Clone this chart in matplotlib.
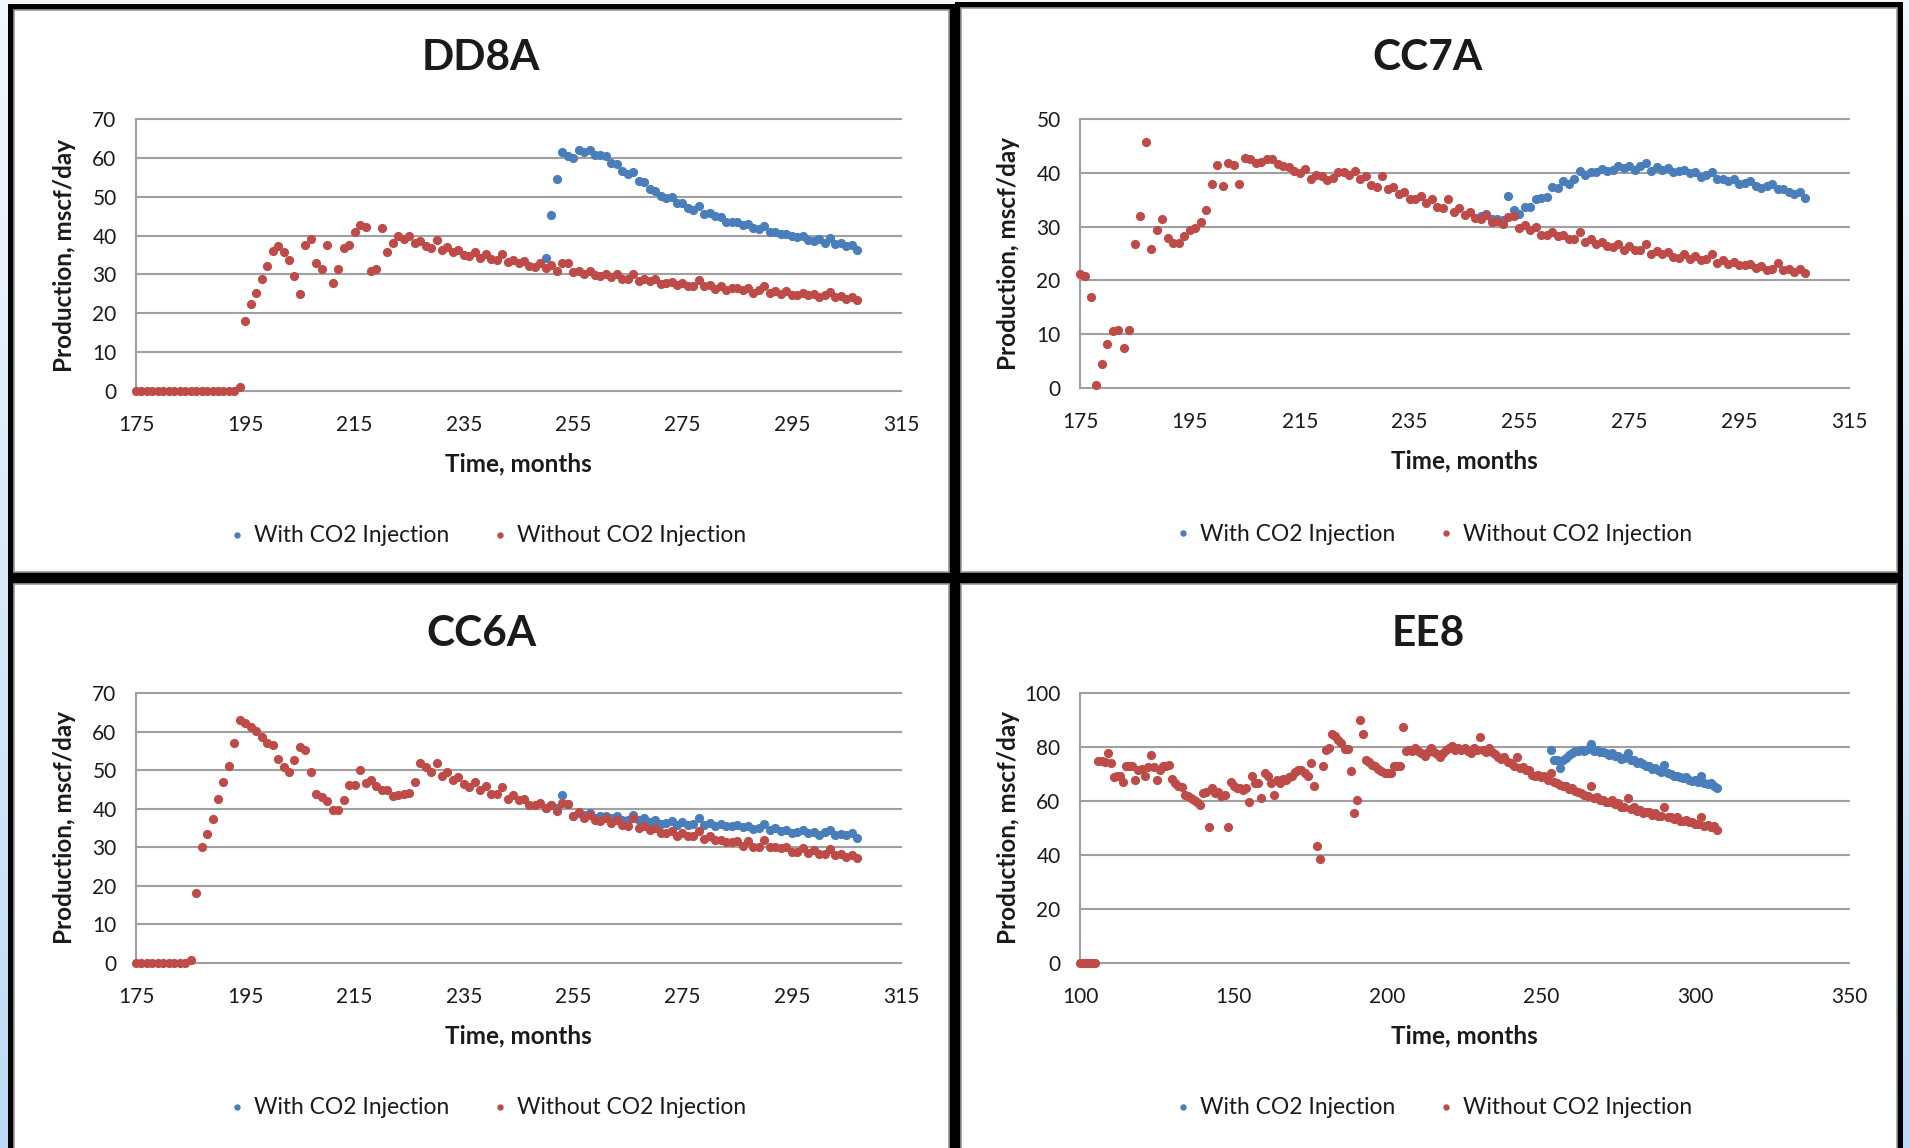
import numpy as np
import matplotlib
matplotlib.use("Agg")
import matplotlib.pyplot as plt
from matplotlib.patches import Rectangle
from matplotlib.lines import Line2D

plt.rcParams['font.family'] = ['Lato', 'DejaVu Sans']

W, H = 1909, 1148

# ---------------- data (monthly production, mscf/day) ----------------
dd8a_start_without = 175
dd8a_without = [0.0] * 19 + [1.1,
    17.9, 22.4, 25.3, 28.9, 32.2, 36.1, 37.2, 35.7, 33.8, 29.5,
    25.0, 37.6, 39.0, 32.9, 31.5, 37.6, 27.7, 31.5, 36.7, 37.6,
    40.9, 42.7, 42.2, 30.8, 31.4, 41.9, 35.7, 38.2, 40.0, 39.1,
    40.0, 38.1, 38.7, 37.2, 36.9, 38.9, 36.3, 37.0, 35.8, 36.3,
    35.1, 34.7, 35.7, 34.3, 35.2, 33.9, 33.6, 35.3, 33.1, 33.8,
    32.9, 33.4, 32.2, 32.0, 32.9, 31.6, 32.4, 31.0, 32.9, 32.9,
    30.5, 31.0, 30.2, 30.8, 29.8, 29.5, 30.2, 29.3, 30.0, 28.9,
    28.9, 30.2, 28.4, 28.9, 28.2, 28.9, 27.6, 27.7, 28.1, 27.2,
    27.9, 27.1, 26.9, 28.6, 26.9, 27.2, 26.3, 27.1, 25.9, 26.4,
    26.5, 26.0, 26.4, 25.3, 26.0, 27.1, 25.2, 25.7, 25.0, 25.7,
    24.8, 24.8, 25.2, 24.7, 25.0, 24.3, 24.8, 25.5, 24.3, 24.5,
    23.8, 24.3, 23.5]
dd8a_start_with = 250
dd8a_with = [34.2, 45.2, 54.6, 61.4, 60.4,
    60.0, 61.9, 61.5, 62.1, 60.8, 60.8, 60.4, 58.7, 58.4, 56.5,
    55.9, 56.4, 54.0, 53.7, 52.0, 51.5, 50.1, 49.6, 49.8, 48.4,
    48.4, 47.0, 46.6, 47.5, 45.6, 45.8, 45.1, 44.8, 43.6, 43.6,
    43.6, 42.7, 43.0, 42.0, 41.8, 42.5, 41.0, 41.0, 40.5, 40.3,
    39.8, 39.6, 40.0, 38.9, 38.6, 39.1, 38.2, 39.3, 37.9, 38.2,
    37.2, 37.5, 36.3]

cc7a_start_without = 175
cc7a_without = [
    21.2, 20.8, 17.0, 0.6, 4.5, 8.2, 10.6, 10.8, 7.5, 10.8,
    26.8, 31.9, 45.7, 25.8, 29.3, 31.4, 27.9, 26.9, 26.9, 28.3,
    29.3, 29.8, 30.9, 33.0, 38.0, 41.5, 37.6, 41.8, 41.5, 38.0,
    42.8, 42.6, 41.8, 42.1, 42.6, 42.6, 41.7, 41.3, 41.1, 40.3,
    39.9, 40.7, 38.9, 39.5, 39.4, 38.6, 39.1, 40.2, 40.1, 39.5,
    40.4, 38.9, 39.4, 37.7, 37.4, 39.4, 36.9, 37.3, 36.0, 36.5,
    35.2, 35.2, 35.7, 34.4, 35.1, 33.6, 33.5, 35.1, 32.8, 33.5,
    32.2, 32.8, 31.6, 31.5, 32.1, 30.9, 31.1, 30.4, 31.7, 31.9,
    29.8, 30.3, 29.3, 30.0, 28.5, 28.5, 29.0, 28.2, 28.5, 27.7,
    27.7, 29.0, 27.2, 27.7, 26.7, 27.1, 26.4, 26.3, 26.7, 25.7,
    26.4, 25.6, 25.6, 26.8, 25.0, 25.5, 25.0, 25.2, 24.4, 24.2,
    25.0, 24.0, 24.5, 23.7, 23.9, 25.0, 23.2, 23.7, 23.0, 23.5,
    22.8, 22.8, 23.1, 22.3, 22.6, 22.0, 22.1, 23.2, 21.9, 22.1,
    21.6, 22.1, 21.4]
cc7a_start_with = 248
cc7a_with = [32.0, 32.3, 31.5, 31.5, 31.3,
    35.7, 33.1, 32.3, 33.6, 33.7, 35.1, 35.4, 35.5, 37.3, 37.1,
    38.4, 37.9, 38.9, 40.3, 39.5, 40.1, 40.2, 40.7, 40.3, 40.5,
    41.3, 40.8, 41.3, 40.5, 41.3, 41.8, 40.3, 41.1, 40.5, 40.8,
    40.2, 40.3, 40.5, 39.9, 40.1, 39.2, 39.6, 40.2, 38.9, 38.9,
    38.5, 38.9, 38.0, 38.1, 38.5, 37.5, 37.1, 37.5, 37.9, 36.9,
    36.9, 36.5, 36.0, 36.4, 35.4]

cc6a_start_without = 175
cc6a_without = [0.0] * 10 + [
    0.7, 18.2, 30.2, 33.4, 37.4, 42.5, 47.0, 51.2, 57.1, 63.0,
    62.1, 61.1, 60.2, 58.5, 57.1, 56.5, 52.9, 50.7, 49.4, 52.6,
    56.1, 55.2, 49.4, 43.8, 43.0, 41.9, 39.7, 39.7, 42.3, 46.2,
    46.2, 50.0, 46.6, 47.5, 45.9, 44.9, 44.9, 43.2, 43.5, 43.8,
    44.2, 47.0, 51.8, 50.7, 49.6, 51.9, 48.5, 49.5, 47.5, 48.1,
    46.3, 45.7, 46.9, 44.9, 45.9, 43.8, 43.7, 45.7, 42.6, 43.5,
    42.3, 42.6, 40.9, 40.9, 41.6, 40.1, 40.9, 39.4, 41.4, 41.1,
    38.2, 39.2, 37.6, 38.5, 37.1, 36.8, 37.5, 36.3, 37.1, 35.7,
    35.4, 37.5, 35.1, 35.6, 34.5, 35.1, 33.7, 33.7, 34.2, 33.0,
    33.7, 32.8, 32.8, 34.2, 32.1, 32.8, 31.8, 31.9, 31.3, 31.3,
    31.6, 30.4, 31.6, 30.2, 30.2, 32.0, 30.1, 30.2, 29.7, 30.2,
    28.9, 28.9, 29.7, 28.5, 29.2, 28.3, 28.3, 29.5, 28.0, 28.2,
    27.6, 28.0, 27.1]
cc6a_start_with = 250
cc6a_with = [40.1, 40.9, 40.2, 43.5, 41.1,
    38.0, 38.8, 38.3, 39.0, 37.6, 38.0, 38.0, 37.5, 38.0, 37.0,
    37.1, 38.3, 37.0, 37.5, 36.6, 37.0, 36.1, 36.3, 36.8, 35.9,
    36.6, 35.9, 36.1, 37.5, 35.9, 36.3, 35.6, 36.1, 35.4, 35.4,
    35.7, 35.2, 35.6, 34.7, 35.1, 36.1, 34.5, 34.9, 34.2, 34.5,
    33.8, 34.0, 34.4, 33.7, 33.9, 33.3, 33.9, 34.4, 33.3, 33.5,
    33.2, 33.7, 32.5]

ee8_start_without = 100
ee8_without = [0.0] * 6 + [
    75.0, 75.0, 74.6, 77.8, 73.9, 68.8, 69.2, 69.4, 67.2, 72.9,
    72.9, 72.9, 67.9, 71.6, 71.9, 69.4, 72.5, 77.1, 72.5, 67.9,
    71.6, 73.1, 72.9, 73.4, 68.2, 66.7, 65.7, 65.2, 62.4, 61.8,
    61.2, 60.3, 59.8, 58.7, 62.8, 63.4, 50.2, 64.7, 62.8, 63.3,
    61.8, 62.1, 50.2, 67.1, 65.7, 65.0, 64.7, 64.2, 64.7, 59.6,
    69.2, 66.5, 66.7, 61.0, 70.2, 69.2, 66.7, 62.4, 67.9, 66.7,
    68.2, 67.9, 68.9, 69.4, 70.9, 71.6, 71.6, 70.4, 69.4, 73.9,
    65.5, 43.3, 38.6, 72.9, 79.0, 79.8, 84.7, 84.0, 82.7, 81.5,
    79.3, 79.3, 71.0, 55.4, 60.5, 90.1, 85.0, 75.1, 74.4, 73.5,
    72.9, 71.9, 71.0, 70.4, 70.2, 70.4, 73.1, 73.1, 72.9, 87.4,
    78.5, 79.0, 78.5, 79.5, 78.5, 77.8, 76.8, 78.3, 79.5, 78.3,
    77.3, 76.3, 77.8, 79.0, 79.5, 80.5, 79.0, 79.5, 79.0, 79.5,
    78.5, 77.8, 79.5, 79.0, 83.7, 79.0, 78.1, 79.5, 78.1, 77.3,
    76.3, 75.6, 76.3, 74.4, 73.9, 73.1, 76.3, 72.4, 72.6, 71.6,
    71.6, 69.7, 69.2, 69.7, 68.9, 69.2, 67.7, 70.4, 67.2, 66.7,
    66.1, 65.5, 65.7, 64.5, 65.0, 63.7, 63.3, 62.8, 62.3, 62.0,
    65.7, 61.0, 61.5, 60.3, 60.5, 59.6, 59.6, 60.3, 58.8, 59.1,
    57.8, 57.8, 61.0, 57.1, 57.8, 56.4, 56.8, 55.6, 55.9, 56.1,
    54.9, 55.4, 54.4, 54.4, 57.6, 53.9, 54.1, 53.4, 53.9, 52.7,
    52.7, 53.1, 52.2, 52.4, 51.4, 51.4, 53.9, 50.9, 51.2, 50.4,
    50.7, 49.2]
ee8_start_with = 253
ee8_with = [
    78.8, 75.3, 75.3, 72.4, 75.3, 76.1, 77.1, 77.8, 78.5, 78.5,
    79.0, 78.5, 79.3, 81.0, 78.5, 79.0, 78.3, 78.3, 77.6, 77.1,
    77.8, 76.6, 76.6, 75.6, 76.1, 77.8, 75.3, 75.3, 74.1, 74.4,
    73.6, 73.1, 73.1, 71.9, 72.1, 71.6, 70.9, 73.4, 70.4, 69.9,
    69.4, 69.4, 68.9, 68.4, 68.9, 67.9, 67.4, 67.9, 67.0, 69.4,
    66.7, 66.2, 66.5, 65.5, 64.7]

titles = ["DD8A", "CC7A", "CC6A", "EE8"]
series_names = ["With CO2 Injection", "Without CO2 Injection"]
x_label = "Time, months"
y_label = "Production, mscf/day"

xticks_175 = [175, 195, 215, 235, 255, 275, 295, 315]
xticks_ee8 = [100, 150, 200, 250, 300, 350]
yticks_70 = [0, 10, 20, 30, 40, 50, 60, 70]
yticks_50 = [0, 10, 20, 30, 40, 50]
yticks_100 = [0, 20, 40, 60, 80, 100]

BLUE = "#4A7EBB"
RED = "#BE4B48"
GRID = "#A0A0A0"
TXT = "#1a1a1a"

# ---------------- figure & background ----------------
fig = plt.figure(figsize=(W / 100, H / 100), dpi=100)
bg = fig.add_axes([0, 0, 1, 1], zorder=0)
bg.set_axis_off()
grad = np.linspace(0, 1, 256)[:, None]
top_c = np.array([0.95, 0.97, 0.99])
bot_c = np.array([0.74, 0.86, 0.97])
img = top_c[None, None, :] * (1 - grad[:, :, None]) + bot_c[None, None, :] * grad[:, :, None]
bg.imshow(img, aspect="auto", extent=[0, 1, 0, 1], origin="upper")
bg.set_xlim(0, 1)
bg.set_ylim(0, 1)


def frect(x0, y0, x1, y1):
    """pixel box (top-left origin) -> figure fraction [l, b, w, h]"""
    return [x0 / W, 1 - y1 / H, (x1 - x0) / W, (y1 - y0) / H]


# panel frames: thick black border, white fill, thin grey inner edge
panels = [(8, 4, 955, 578), (955, 2, 1903, 578),
          (8, 578, 955, 1160), (955, 578, 1903, 1160)]
for (x0, y0, x1, y1) in panels:
    l, b, w, h = frect(x0, y0, x1, y1)
    bg.add_patch(Rectangle((l, b), w, h, facecolor="black", edgecolor="none", zorder=1))
    bt = 6
    l, b, w, h = frect(x0 + bt, y0 + bt, x1 - bt, y1 - bt)
    bg.add_patch(Rectangle((l, b), w, h, facecolor="white", edgecolor="#9a9a9a",
                           linewidth=1.2, zorder=2))

# ---------------- plot areas ----------------
boxes = [(136, 119, 901, 391), (1080, 119, 1849, 388),
         (136, 693, 901, 963), (1080, 693, 1849, 963)]
specs = [
    (dd8a_start_with, dd8a_with, dd8a_start_without, dd8a_without, (175, 315), xticks_175, yticks_70),
    (cc7a_start_with, cc7a_with, cc7a_start_without, cc7a_without, (175, 315), xticks_175, yticks_50),
    (cc6a_start_with, cc6a_with, cc6a_start_without, cc6a_without, (175, 315), xticks_175, yticks_70),
    (ee8_start_with, ee8_with, ee8_start_without, ee8_without, (100, 350), xticks_ee8, yticks_100),
]

for i, (box, spec) in enumerate(zip(boxes, specs)):
    s_w, v_w, s_wo, v_wo, xlim, xt, yt = spec
    ax = fig.add_axes(frect(*box), zorder=3)
    ax.set_facecolor("none")
    months_w = np.arange(s_w, s_w + len(v_w))
    months_wo = np.arange(s_wo, s_wo + len(v_wo))
    ax.plot(months_w, v_w, ls="none", marker="o", ms=5.6, color=BLUE, mec=BLUE,
            clip_on=False, zorder=4)
    ax.plot(months_wo, v_wo, ls="none", marker="o", ms=5.6, color=RED, mec=RED,
            clip_on=False, zorder=5)
    ax.set_xlim(*xlim)
    ax.set_ylim(yt[0], yt[-1])
    ax.set_xticks(xt)
    ax.set_yticks(yt)
    ax.grid(axis="y", color=GRID, linewidth=1.5)
    for gl in ax.get_ygridlines():
        gl.set_clip_on(False)
    ax.set_axisbelow(True)
    for side in ("top", "right", "bottom"):
        ax.spines[side].set_visible(False)
    ax.spines["left"].set_color(GRID)
    ax.spines["left"].set_linewidth(1.5)
    ax.tick_params(axis="both", length=0, labelsize=15, colors=TXT)
    ax.tick_params(axis="y", pad=14)
    ax.tick_params(axis="x", pad=17)

    x0, y0, x1, y1 = box
    cx = (x0 + x1) / 2
    cy = (y0 + y1) / 2
    # x axis title
    fig.text(cx / W, 1 - (y1 + 73) / H, x_label, ha="center", va="center",
             fontsize=17.5, fontweight="bold", color=TXT, zorder=6)
    # y axis title
    fig.text((x0 - 72) / W, 1 - cy / H, y_label, ha="center", va="center",
             rotation=90, fontsize=17.5, fontweight="bold", color=TXT, zorder=6)

# titles
title_pos = [(481, 58), (1428, 58), (481, 634), (1428, 634)]
for t, (tx, ty) in zip(titles, title_pos):
    fig.text(tx / W, 1 - ty / H, t, ha="center", va="center",
             fontsize=30.5, fontweight="bold", color=TXT, zorder=6)

# legends
handles = [Line2D([], [], ls="none", marker="o", ms=3.6, color=BLUE),
           Line2D([], [], ls="none", marker="o", ms=3.6, color=RED)]
legend_pos = [(488, 536), (1434, 534), (488, 1108), (1434, 1108)]
for (lx, ly) in legend_pos:
    fig.legend(handles, series_names, loc="center", ncol=2,
               bbox_to_anchor=(lx / W, 1 - ly / H), frameon=False,
               fontsize=16.4, handlelength=0.6, handletextpad=0.45,
               columnspacing=1.9, labelcolor=TXT)

fig.savefig("out.png", dpi=100)
